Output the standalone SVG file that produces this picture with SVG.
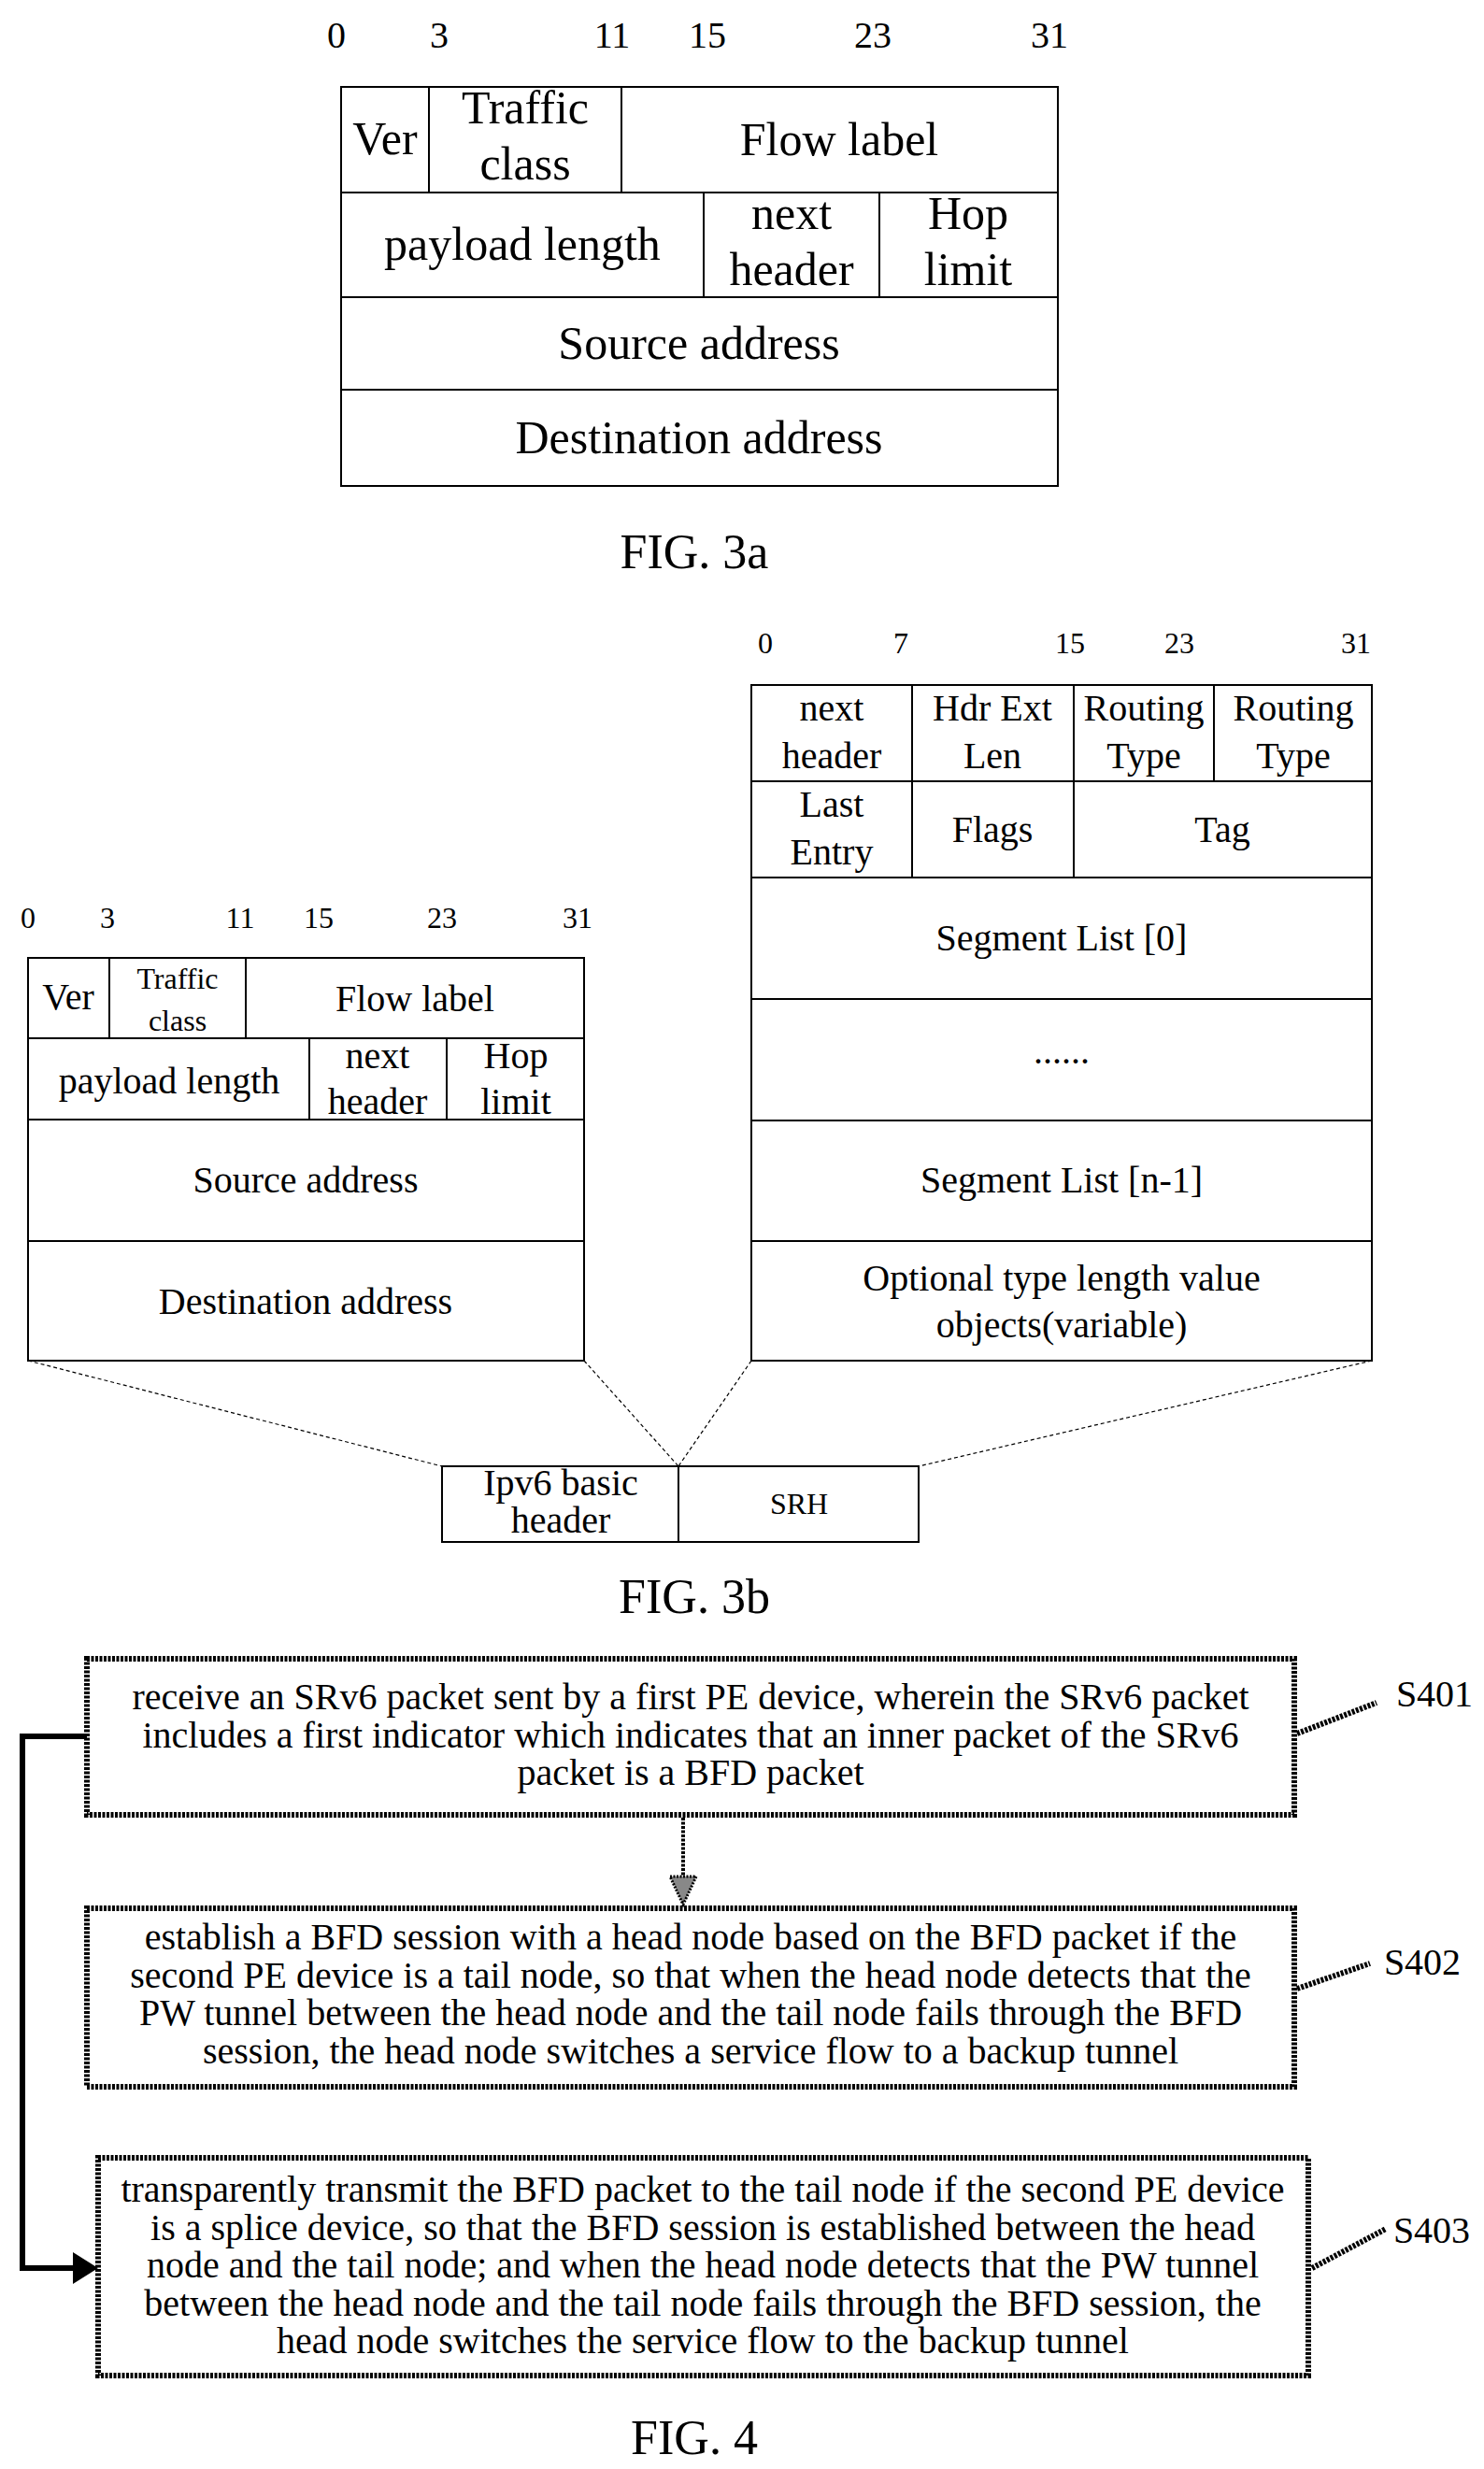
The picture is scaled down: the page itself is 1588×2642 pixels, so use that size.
<svg xmlns="http://www.w3.org/2000/svg" width="1588" height="2642" viewBox="0 0 1588 2642">
<style>
text{font-family:"Liberation Serif","Times New Roman",serif;fill:#000;text-anchor:middle}
.c{fill:#fff;stroke:#000;stroke-width:2}
.l{stroke:#000;stroke-width:2;fill:none}
.a{font-size:50px}.an{font-size:40px}
.b{font-size:40px}.bs{font-size:32px}.bn{font-size:32px}
.f{font-size:40px}.fig{font-size:52px}
.h{fill:#fff;stroke:#000;stroke-width:6;stroke-dasharray:3 1.5}
.sq{stroke:#000;stroke-width:6;stroke-dasharray:3 1.5;fill:none}
.dl{stroke:#000;stroke-width:1.2;stroke-dasharray:4 3;fill:none}
</style>
<g id="fig3a">
<g class="an"><text x="360" y="51">0</text><text x="470" y="51">3</text><text x="655" y="51">11</text><text x="757" y="51">15</text><text x="934" y="51">23</text><text x="1123" y="51">31</text></g>
<rect class="c" x="365" y="93" width="767" height="427"/>
<path class="l" d="M365,206H1132M365,318H1132M365,417H1132M459,93V206M665,93V206M753,206V318M941,206V318"/>
<g class="a">
<text x="412" y="165">Ver</text>
<text x="562" y="132">Traffic</text><text x="562" y="192">class</text>
<text x="898" y="166">Flow label</text>
<text x="559" y="278">payload length</text>
<text x="847" y="245">next</text><text x="847" y="305">header</text>
<text x="1036" y="245">Hop</text><text x="1036" y="305">limit</text>
<text x="748" y="384">Source address</text>
<text x="748" y="485">Destination address</text>
</g>
<text class="fig" x="743" y="608">FIG. 3a</text>
</g>
<g id="fig3b-ipv6">
<g class="bn"><text x="30" y="993">0</text><text x="115" y="993">3</text><text x="257" y="993">11</text><text x="341" y="993">15</text><text x="473" y="993">23</text><text x="618" y="993">31</text></g>
<rect class="c" x="30" y="1025" width="595" height="431"/>
<path class="l" d="M30,1111H625M30,1198H625M30,1328H625M117,1025V1111M263,1025V1111M331,1111V1198M478,1111V1198"/>
<text class="b" x="73" y="1080">Ver</text>
<text class="bs" x="190" y="1058">Traffic</text><text class="bs" x="190" y="1103">class</text>
<text class="b" x="444" y="1082">Flow label</text>
<text class="b" x="181" y="1170">payload length</text>
<text class="b" x="404" y="1143">next</text><text class="b" x="404" y="1192">header</text>
<text class="b" x="552" y="1143">Hop</text><text class="b" x="552" y="1192">limit</text>
<text class="b" x="327" y="1276">Source address</text>
<text class="b" x="327" y="1406">Destination address</text>
</g>
<g id="fig3b-srh">
<g class="bn"><text x="819" y="699">0</text><text x="964" y="699">7</text><text x="1145" y="699">15</text><text x="1262" y="699">23</text><text x="1451" y="699">31</text></g>
<rect class="c" x="804" y="733" width="664" height="723"/>
<path class="l" d="M804,836H1468M804,939H1468M804,1069H1468M804,1199H1468M804,1328H1468M976,733V939M1149,733V939M1299,733V836"/>
<g class="b">
<text x="890" y="771">next</text><text x="890" y="822">header</text>
<text x="1062" y="771">Hdr Ext</text><text x="1062" y="822">Len</text>
<text x="1224" y="771">Routing</text><text x="1224" y="822">Type</text>
<text x="1384" y="771">Routing</text><text x="1384" y="822">Type</text>
<text x="890" y="874">Last</text><text x="890" y="925">Entry</text>
<text x="1062" y="901">Flags</text>
<text x="1308" y="901">Tag</text>
<text x="1136" y="1017">Segment List [0]</text>
<text x="1136" y="1138">......</text>
<text x="1136" y="1276">Segment List [n-1]</text>
<text x="1136" y="1381">Optional type length value</text><text x="1136" y="1431">objects(variable)</text>
</g>
</g>
<g id="fig3b-packet">
<rect class="c" x="473" y="1569" width="510" height="81"/>
<path class="l" d="M726,1569V1650"/>
<text class="b" x="600" y="1600">Ipv6 basic</text><text class="b" x="600" y="1640">header</text>
<text class="bs" x="855" y="1620">SRH</text>
</g>
<g id="connectors-3b">
<path class="dl" d="M30,1456L473,1569M625,1456L726,1569M804,1456L726,1569M1468,1456L983,1569"/>
</g>
<text class="fig" x="743" y="1726">FIG. 3b</text>
<g id="S401">
<rect class="h" x="93" y="1775" width="1292" height="167"/>
<g class="f"><text x="739" y="1829">receive an SRv6 packet sent by a first PE device, wherein the SRv6 packet</text>
<text x="739" y="1870">includes a first indicator which indicates that an inner packet of the SRv6</text>
<text x="739" y="1910">packet is a BFD packet</text></g>
<text class="f" x="1535" y="1826">S401</text>
</g>
<g id="S402">
<rect class="h" x="93" y="2042" width="1292" height="191"/>
<g class="f"><text x="739" y="2086">establish a BFD session with a head node based on the BFD packet if the</text>
<text x="739" y="2127">second PE device is a tail node, so that when the head node detects that the</text>
<text x="739" y="2167">PW tunnel between the head node and the tail node fails through the BFD</text>
<text x="739" y="2208">session, the head node switches a service flow to a backup tunnel</text></g>
<text class="f" x="1522" y="2113">S402</text>
</g>
<g id="S403">
<rect class="h" x="105" y="2309" width="1295" height="233"/>
<g class="f"><text x="752" y="2356">transparently transmit the BFD packet to the tail node if the second PE device</text>
<text x="752" y="2397">is a splice device, so that the BFD session is established between the head</text>
<text x="752" y="2437">node and the tail node; and when the head node detects that the PW tunnel</text>
<text x="752" y="2478">between the head node and the tail node fails through the BFD session, the</text>
<text x="752" y="2518">head node switches the service flow to the backup tunnel</text></g>
<text class="f" x="1532" y="2400">S403</text>
</g>
<g id="connectors-4">
<path class="sq" d="M1388,1855L1473,1822M1388,2128L1466,2101M1404,2427L1483,2385"/>
<path d="M731,1945V2010" stroke="#000" stroke-width="4" stroke-dasharray="3 1.5" fill="none"/>
<path d="M717,2008L745,2008L731,2038Z" fill="#888" stroke="#000" stroke-width="3" stroke-dasharray="2 1.5"/>
<path d="M93,1858H24V2427H80" stroke="#000" stroke-width="6" fill="none"/>
<path d="M78,2410L105,2427L78,2444Z" fill="#000"/>
</g>
<text class="fig" x="743" y="2626">FIG. 4</text>
</svg>
